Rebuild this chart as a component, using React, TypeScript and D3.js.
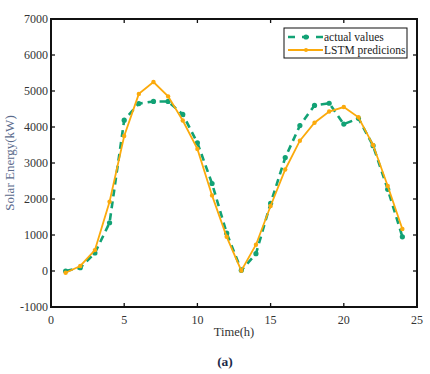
import React from 'react';
import * as d3 from 'd3';

const hours = [1, 2, 3, 4, 5, 6, 7, 8, 9, 10, 11, 12, 13, 14, 15, 16, 17, 18, 19, 20, 21, 22, 23, 24];
const actualValues = [0, 90, 500, 1340, 4190, 4650, 4710, 4710, 4350, 3560, 2430, 1050, 20, 480, 1880, 3150, 4040, 4600, 4660, 4080, 4240, 3480, 2270, 950];
const lstmValues = [-50, 140, 580, 1925, 3750, 4920, 5250, 4850, 4180, 3390, 2100, 950, 10, 730, 1805, 2820, 3620, 4120, 4430, 4555, 4270, 3500, 2360, 1165];
const xTicks = [0, 5, 10, 15, 20, 25];
const yTicks = [-1000, 0, 1000, 2000, 3000, 4000, 5000, 6000, 7000];
const seriesNames = ['actual values', 'LSTM predicions'];

const GREEN = '#12a275';
const ORANGE = '#fbaa0c';
const FONT = '"Liberation Serif", "DejaVu Serif", serif';

export default function App() {
  const width = 430;
  const height = 374;
  const margin = {left: 51, right: 13, top: 19, bottom: 67};
  const innerW = width - margin.left - margin.right;
  const innerH = height - margin.top - margin.bottom;

  const x = d3.scaleLinear().domain([0, 25]).range([0, innerW]);
  const y = d3.scaleLinear().domain([-1000, 7000]).range([innerH, 0]);

  const line = d3.line<number>()
      .x((_, i) => x(hours[i]))
      .y((d) => y(d));

  const tickLen = 4;

  return (
    <svg width={width} height={height} style={{position: 'absolute', left: 0, top: 0}}
         fontFamily={FONT}>
      <rect width={width} height={height} fill="#fff"/>
      <g transform={`translate(${margin.left},${margin.top})`}>
        {/* series */}
        <path d={line(actualValues) || ''} fill="none" stroke={GREEN} strokeWidth={2.6}
              strokeDasharray="7,5"/>
        {actualValues.map((v, i) => (
          <circle key={`a${i}`} cx={x(hours[i])} cy={y(v)} r={2.6} fill={GREEN}/>
        ))}
        <path d={line(lstmValues) || ''} fill="none" stroke={ORANGE} strokeWidth={1.8}/>
        {lstmValues.map((v, i) => (
          <circle key={`l${i}`} cx={x(hours[i])} cy={y(v)} r={2.2} fill={ORANGE}/>
        ))}

        {/* ticks (inward, all sides) */}
        {xTicks.map((t) => (
          <g key={`xt${t}`}>
            <line x1={x(t)} x2={x(t)} y1={innerH} y2={innerH - tickLen} stroke="#111" strokeWidth={1.3}/>
            <line x1={x(t)} x2={x(t)} y1={0} y2={tickLen} stroke="#111" strokeWidth={1.3}/>
            <text x={x(t)} y={innerH + 17} textAnchor="middle" fontSize={12} fill="#333">{t}</text>
          </g>
        ))}
        {yTicks.map((t) => (
          <g key={`yt${t}`}>
            <line x1={0} x2={tickLen} y1={y(t)} y2={y(t)} stroke="#111" strokeWidth={1.3}/>
            <line x1={innerW} x2={innerW - tickLen} y1={y(t)} y2={y(t)} stroke="#111" strokeWidth={1.3}/>
            <text x={-3} y={y(t)} dy="0.35em" textAnchor="end" fontSize={12} fill="#333">{t}</text>
          </g>
        ))}
        <rect x={0} y={0} width={innerW} height={innerH} fill="none" stroke="#111" strokeWidth={2}/>

        {/* legend */}
        <g transform={`translate(${innerW - 133},${9})`}>
          <rect x={0} y={0} width={123} height={30} fill="#fff" stroke="#111" strokeWidth={1}/>
          <line x1={4} x2={39} y1={9} y2={9} stroke={GREEN} strokeWidth={2.6} strokeDasharray="7,7"/>
          <circle cx={22} cy={9} r={2.6} fill={GREEN}/>
          <text x={40} y={9} dy="0.35em" fontSize={11.5} fill="#222">{seriesNames[0]}</text>
          <line x1={4} x2={39} y1={22} y2={22} stroke={ORANGE} strokeWidth={1.8}/>
          <circle cx={22} cy={22} r={2} fill={ORANGE}/>
          <text x={40} y={22} dy="0.35em" fontSize={11.5} fill="#222">{seriesNames[1]}</text>
        </g>
      </g>

      {/* axis titles */}
      <text x={margin.left + innerW / 2} y={336} textAnchor="middle" fontSize={12.5} fill="#333">Time(h)</text>
      <text transform={`translate(14,${margin.top + innerH / 2}) rotate(-90)`} textAnchor="middle"
            fontSize={13} fill="#5b6b8c">Solar Energy(kW)</text>
      <text x={225} y={366} textAnchor="middle" fontSize={13.5} fontWeight="bold" fill="#1c2a4a">(a)</text>
    </svg>
  );
}
